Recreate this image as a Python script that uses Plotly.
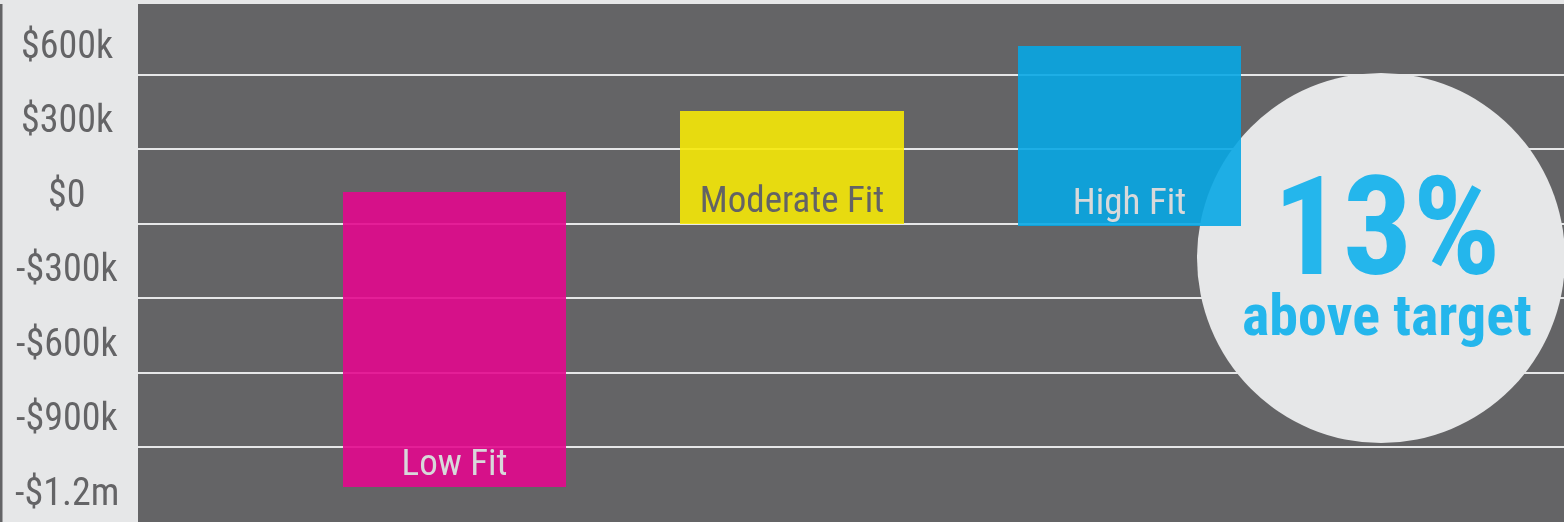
import plotly.graph_objects as go

# ---- data (values in dollars) ----
categories = ["Low Fit", "Moderate Fit", "High Fit"]
bar_bottoms = [-1058000, 0, -10000]
bar_tops = [130000, 456000, 716000]
bar_colors = ["#e4088e", "#f7e907", "#07a7e5"]
label_colors = ["#e6e7e8", "#646466", "#e6e7e8"]

tick_values = [600000, 300000, 0, -300000, -600000, -900000, -1200000]
tick_labels = ["$600k", "$300k", "$0", "-$300k", "-$600k", "-$900k", "-$1.2m"]

callout_big = "13%"
callout_small = "above target"

FONT = "Roboto Condensed, Liberation Sans Narrow, DejaVu Sans Condensed, sans-serif"
DARK = "#646466"
LIGHT = "#e6e7e8"
CALLOUT_BLUE = "#24b6ec"

W, H = 1564, 522
ML, MT = 138, 4
PW, PH = W - ML, H - MT

def px_x(px):
    return (px - ML) / PW

def px_y(py):
    return (H - py) / PH

heights = [t - b for t, b in zip(bar_tops, bar_bottoms)]

fig = go.Figure()
fig.add_trace(go.Bar(
    x=categories,
    y=heights,
    base=bar_bottoms,
    width=0.661,
    marker=dict(color=bar_colors, line=dict(width=0)),
    opacity=0.9,
    text=categories,
    textposition="inside",
    insidetextanchor="start",
    textangle=0,
    textfont=dict(family=FONT, size=37, color=label_colors),
    hoverinfo="skip",
    showlegend=False,
))

annotations = []
for v, lab in zip(tick_values, tick_labels):
    annotations.append(dict(
        x=px_x(67), xref="paper", xanchor="center",
        y=v, yref="y", yanchor="middle", yshift=30,
        text=lab, showarrow=False,
        font=dict(family=FONT, size=38, color=DARK),
    ))

callout_text = (
    f"<b><span style='font-size:138px'>{callout_big}</span><br>"
    f"<span style='font-size:58px'>{callout_small}</span></b>"
)
annotations.append(dict(
    x=px_x(1387), xref="paper", xanchor="center",
    y=px_y(248), yref="paper", yanchor="middle",
    text=callout_text, showarrow=False, align="center",
    font=dict(family=FONT, size=47, color=CALLOUT_BLUE),
))

shapes = [
    # callout circle (above gridlines, below bars)
    dict(type="circle", xref="paper", yref="paper",
         xsizemode="pixel", ysizemode="pixel",
         xanchor=px_x(1381), yanchor=px_y(258),
         x0=-184, x1=184, y0=-185, y1=185,
         fillcolor=LIGHT, line=dict(width=0), layer="between"),
    # thin dark strip at far left edge
    dict(type="rect", xref="paper", yref="paper",
         x0=px_x(0), x1=px_x(2.5), y0=0, y1=1,
         fillcolor=DARK, line=dict(width=0), layer="above"),
]

fig.update_layout(
    width=W, height=H,
    margin=dict(l=ML, r=0, t=MT, b=0, pad=0),
    paper_bgcolor=LIGHT,
    plot_bgcolor=DARK,
    bargap=0,
    annotations=annotations,
    shapes=shapes,
    xaxis=dict(range=[-0.9378, 3.2874], showticklabels=False, showgrid=False,
               zeroline=False, showline=False, ticks="", fixedrange=True),
    yaxis=dict(range=[-1200300, 885000], tickvals=tick_values,
               showticklabels=False, showgrid=True, gridcolor=LIGHT, gridwidth=2,
               zeroline=False, showline=False, ticks="", fixedrange=True),
    uniformtext=dict(mode=False),
)

fig.write_html("out.html")
